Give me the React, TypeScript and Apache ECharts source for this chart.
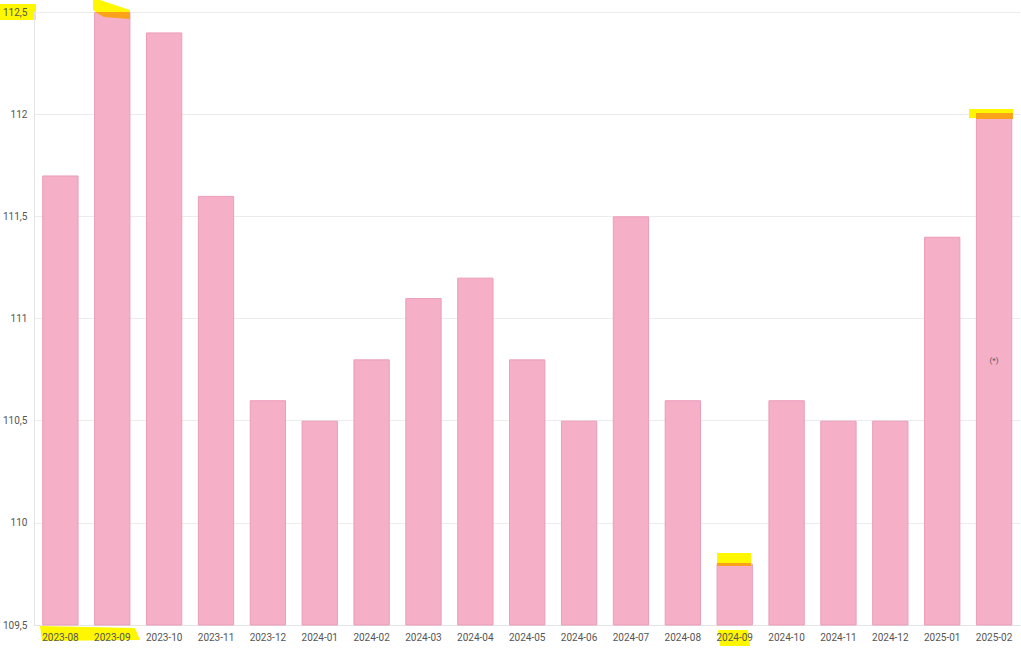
import React, { useEffect, useRef } from "react";
import * as echarts from "echarts";

const categories = [
  "2023-08", "2023-09", "2023-10", "2023-11", "2023-12", "2024-01", "2024-02",
  "2024-03", "2024-04", "2024-05", "2024-06", "2024-07", "2024-08", "2024-09",
  "2024-10", "2024-11", "2024-12", "2025-01", "2025-02",
];
const values = [
  111.7, 112.5, 112.4, 111.6, 110.6, 110.5, 110.8, 111.1, 111.2, 110.8, 110.5,
  111.5, 110.6, 109.8, 110.6, 110.5, 110.5, 111.4, 112.0,
];
const yMin = 109.5;
const yMax = 112.5;
const yStep = 0.5;
const note = "(*)";

const YELLOW = "#fff700";
const ORANGE = "#f9a21a";

export default function App() {
  const ref = useRef<HTMLDivElement>(null);
  useEffect(() => {
    if (!ref.current) return;
    const chart = echarts.init(ref.current, null, { renderer: "svg" });
    const under = (shape: any, kind = "rect", z = -10) => ({ type: kind, shape, style: { fill: YELLOW }, z, silent: true });
    const over = (shape: any, kind = "rect") => ({ type: kind, shape, style: { fill: ORANGE }, z: 10, silent: true });
    chart.setOption({
      animation: false,
      backgroundColor: "#ffffff",
      grid: { left: 34, right: 1, top: 12, bottom: 23, containLabel: false },
      xAxis: {
        type: "category",
        data: categories,
        axisLine: { show: true, lineStyle: { color: "#e4e4e4" } },
        axisTick: { show: false },
        axisLabel: { color: "#555", fontSize: 10, fontFamily: "Roboto", margin: 7 },
      },
      yAxis: {
        type: "value",
        min: yMin,
        max: yMax,
        interval: yStep,
        axisLine: { show: true, lineStyle: { color: "#e4e4e4" } },
        axisTick: { show: false },
        splitLine: { lineStyle: { color: "#ececec" } },
        axisLabel: {
          color: "#555",
          fontSize: 10,
          fontFamily: "Roboto",
          margin: 7,
          formatter: (v: number) => String(v).replace(".", ","),
        },
      },
      series: [
        {
          type: "bar",
          data: values,
          barWidth: "70%",
          itemStyle: { color: "#f5afc7", borderColor: "#eb9db9", borderWidth: 1 },
        },
      ],
      graphic: [
        under({ x: 0, y: 4, width: 36, height: 16 }),
        under({ points: [[93, 0], [100, 0], [130, 10], [130, 18], [104, 17], [93, 10]] }, "polygon", 1),
        over({ points: [[95, 12], [130, 12], [130, 19], [104, 17]] }, "polygon"),
        under({ points: [[40, 626], [135, 628], [140, 640], [42, 641]] }, "polygon"),
        under({ x: 717, y: 553, width: 34, height: 12 }, "rect", 1),
        over({ x: 717, y: 563, width: 34, height: 3 }),
        under({ points: [[718, 630], [748, 630], [750, 646], [720, 646]] }, "polygon"),
        under({ x: 969, y: 109, width: 44, height: 9 }, "rect", 1),
        over({ x: 976, y: 113, width: 37, height: 6 }),
        {
          type: "text",
          x: 994,
          y: 360,
          style: { text: note, fill: "#555", fontSize: 8, fontFamily: "Roboto", align: "center", verticalAlign: "middle" },
          z: 102,
        },
      ],
    });
    return () => chart.dispose();
  }, []);
  return <div ref={ref} style={{ width: 1021, height: 648, position: "absolute", left: 0, top: 0 }} />;
}
